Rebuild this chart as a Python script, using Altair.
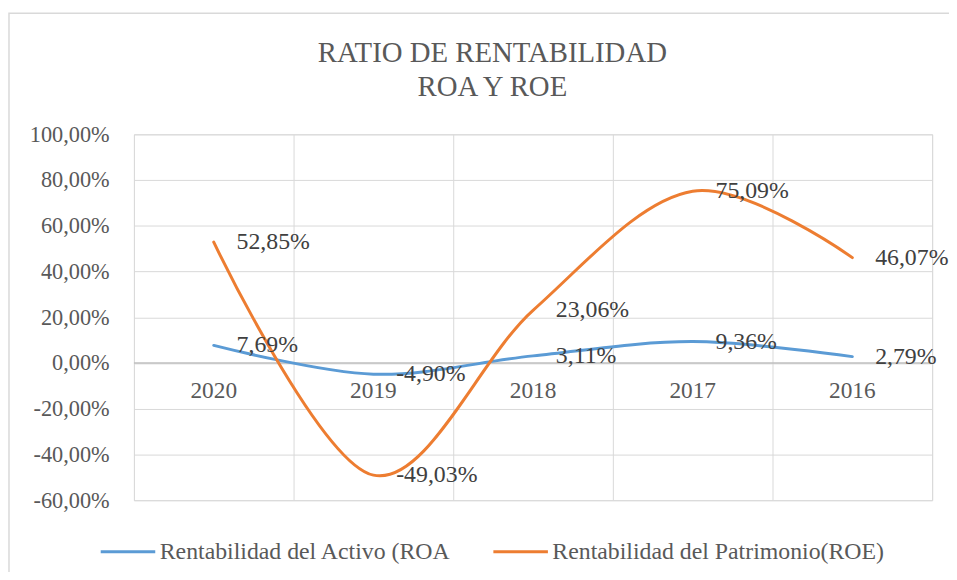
import altair as alt
import pandas as pd

years = ["2020", "2019", "2018", "2017", "2016"]
roa = [0.0769, -0.0490, 0.0311, 0.0936, 0.0279]
roe = [0.5285, -0.4903, 0.2306, 0.7509, 0.4607]
series_names = ["Rentabilidad del Activo (ROA", "Rentabilidad del Patrimonio(ROE)"]
series_colors = ["#5B9BD5", "#ED7D31"]
y_ticks = [-0.6, -0.4, -0.2, 0.0, 0.2, 0.4, 0.6, 0.8, 1.0]
title_lines = ["RATIO DE RENTABILIDAD", "ROA Y ROE"]

def fmt(v):
    return f"{v * 100:.2f}".replace(".", ",") + "%"

rows = []
for name, vals in zip(series_names, [roa, roe]):
    for yr, v in zip(years, vals):
        rows.append({"year": yr, "value": v, "series": name, "label": fmt(v)})
df = pd.DataFrame(rows)
df_years = pd.DataFrame({"year": years})

FONT = "Liberation Serif"
W, H = 805, 369

x_scale = alt.Scale(type="band", domain=years, paddingInner=0, paddingOuter=0)
y_scale = alt.Scale(domain=[-0.6, 1.0], nice=False, zero=False)

base = alt.Chart(df)

lines = base.mark_line(interpolate="cardinal", strokeWidth=3, strokeCap="round").encode(
    x=alt.X("year:N", scale=x_scale, sort=years,
            axis=alt.Axis(title=None, labels=False, ticks=False, domain=False,
                          grid=True, tickBand="extent", gridColor="#D9D9D9", gridWidth=1)),
    y=alt.Y("value:Q", scale=y_scale,
            axis=alt.Axis(title=None, values=y_ticks, domain=False, ticks=False,
                          grid=True, gridColor="#D9D9D9", gridWidth=1,
                          labelExpr="replace(replace(format(datum.value, '.2%'), '.', ','), '\u2212', '-')",
                          labelFont=FONT, labelFontSize=22.5, labelColor="#595959",
                          labelPadding=25)),
    color=alt.Color("series:N", scale=alt.Scale(domain=series_names, range=series_colors),
                    legend=alt.Legend(title=None, orient="none", direction="horizontal",
                                      legendX=-35, legendY=392,
                                      symbolType="stroke", symbolStrokeWidth=3, symbolSize=3025,
                                      labelFont=FONT, labelFontSize=24, labelColor="#595959",
                                      labelLimit=0, labelOffset=3, columnPadding=36)),
)

zero_rule = alt.Chart(pd.DataFrame({"z": [0.0]})).mark_rule(color="#BFBFBF", strokeWidth=1.5).encode(
    y=alt.Y("z:Q", scale=y_scale)
)

labels = base.mark_text(align="left", baseline="middle", dx=23, font=FONT, fontSize=24,
                        color="#404040").encode(
    x=alt.X("year:N", scale=x_scale, sort=years),
    y=alt.Y("value:Q", scale=y_scale),
    text="label:N",
)

year_text = alt.Chart(df_years).mark_text(baseline="alphabetic", dy=35, font=FONT, fontSize=23.5,
                                         color="#595959").encode(
    x=alt.X("year:N", scale=x_scale, sort=years),
    y=alt.datum(0.0),
    text="year:N",
)

frame = alt.Chart(pd.DataFrame({"f": [1]})).mark_rect(fill=None, stroke="#D9D9D9", strokeWidth=1.5).encode(
    x=alt.value(-126), x2=alt.value(860), y=alt.value(-122), y2=alt.value(470)
)

chart = alt.layer(frame, zero_rule, lines, labels, year_text).properties(
    width=W, height=H,
    padding={"left": 127, "top": 125, "right": 17, "bottom": 70},
    autosize=alt.AutoSizeParams(type="none"),
    title=alt.TitleParams(text=title_lines, font=FONT, fontSize=29, fontWeight="normal",
                          color="#595959", anchor="middle", dx=-41, offset=-90, lineHeight=34),
).configure_view(stroke="#D9D9D9", strokeWidth=1).configure(background="white")

chart.save("out.html", embed_options={"renderer": "svg", "actions": False})
